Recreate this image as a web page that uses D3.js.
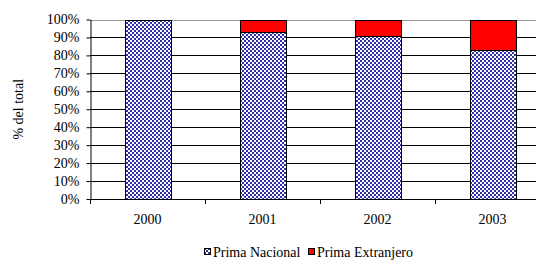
<!DOCTYPE html>
<html><head><meta charset="utf-8">
<script src="https://cdn.jsdelivr.net/npm/d3@7/dist/d3.min.js"></script>
<style>body{margin:0;background:#fff}svg{display:block}</style>
</head><body><svg id="c" width="536" height="260"></svg>
<script>
const years = ["2000","2001","2002","2003"];
const primaNacional = [100, 93, 91, 83];
const primaExtranjero = [0, 7, 9, 17];
const seriesNames = ["Prima Nacional","Prima Extranjero"];
const yTicks = [0,10,20,30,40,50,60,70,80,90,100];

const FONT = "Liberation Serif, DejaVu Serif, serif";
const FS = "14px";
const svg = d3.select("#c");
const m = {l:90, t:19.5, r:550, b:199};
const defs = svg.append("defs");
const pat = defs.append("pattern").attr("id","hatch").attr("patternUnits","userSpaceOnUse")
  .attr("width",4).attr("height",4);
pat.append("rect").attr("width",4).attr("height",4).attr("fill","#fff");
[[0,0],[1,0],[0,1],[2,2],[3,2],[2,3],[1,1],[3,3]].forEach(([x,y])=>
  pat.append("rect").attr("x",x).attr("y",y).attr("width",1).attr("height",1).attr("fill","#3030a8"));

const x = d3.scaleBand().domain(years).range([m.l, m.r]).paddingInner(0.6).paddingOuter(0.3);
const xb = d3.scaleBand().domain(years).range([m.l, m.r]);
const y = d3.scaleLinear().domain([0,100]).range([m.b, m.t]);

// gridlines
svg.append("g").selectAll("line").data(yTicks.filter(d=>d>0)).join("line")
  .attr("x1",m.l).attr("x2",m.r).attr("y1",d=>Math.round(y(d))+0.5).attr("y2",d=>Math.round(y(d))+0.5)
  .attr("stroke",d=>d===100?"#999":"#000").attr("stroke-width",1);

const data = years.map((yr,i)=>({yr, n:primaNacional[i], e:primaExtranjero[i]}));
const g = svg.append("g");
g.selectAll(".n").data(data).join("rect")
  .attr("x",d=>Math.round(x(d.yr))+0.5).attr("width",Math.round(x.bandwidth()))
  .attr("y",d=>Math.round(y(d.n))+0.5).attr("height",d=>Math.round(y(0))-Math.round(y(d.n)))
  .attr("fill","url(#hatch)").attr("stroke","#000").attr("stroke-width",1);
g.selectAll(".e").data(data.filter(d=>d.e>0)).join("rect")
  .attr("x",d=>Math.round(x(d.yr))+0.5).attr("width",Math.round(x.bandwidth()))
  .attr("y",d=>Math.round(y(d.n+d.e))+0.5).attr("height",d=>Math.round(y(d.n))-Math.round(y(d.n+d.e)))
  .attr("fill","#ff0000").attr("stroke","#000").attr("stroke-width",1);

// y axis
const ya = svg.append("g").attr("transform",`translate(${m.l+0.5},0)`)
  .call(d3.axisLeft(y).tickValues(yTicks).tickFormat(d=>d+"%").tickSize(4).tickSizeOuter(0));
ya.attr("font-family",FONT);
ya.select(".domain").attr("stroke","#000");
ya.selectAll(".tick line").attr("stroke","#000");
ya.selectAll("text").attr("font-size",FS).attr("fill","#000").attr("x",-11)
  .attr("font-family",FONT);

// x axis
svg.append("line").attr("x1",m.l).attr("x2",m.r).attr("y1",m.b+0.5).attr("y2",m.b+0.5).attr("stroke","#000");
svg.append("g").selectAll("line").data(years.map(d=>xb(d)).concat([m.r])).join("line")
  .attr("x1",d=>Math.round(d)+0.5).attr("x2",d=>Math.round(d)+0.5).attr("y1",m.b).attr("y2",m.b+5).attr("stroke","#000");
svg.append("g").selectAll("text").data(years).join("text")
  .attr("x",d=>xb(d)+xb.bandwidth()/2).attr("y",224).attr("text-anchor","middle")
  .attr("font-family",FONT).attr("font-size",FS).text(d=>d);

// y title
svg.append("text").attr("transform",`translate(23,${(m.t+m.b)/2}) rotate(-90)`)
  .attr("text-anchor","middle").attr("font-family",FONT).attr("font-size",FS).text("% del total");

// legend
const leg = svg.append("g");
const items = [{name:seriesNames[0], fill:"url(#hatch)", x:204},{name:seriesNames[1], fill:"#ff0000", x:308}];
items.forEach(it=>{
  leg.append("rect").attr("x",it.x+0.5).attr("y",248.5).attr("width",6).attr("height",6)
    .attr("fill",it.fill).attr("stroke","#000");
  leg.append("text").attr("x",it.x+9).attr("y",256.5).attr("font-family",FONT)
    .attr("font-size",FS).text(it.name);
});
</script></body></html>
